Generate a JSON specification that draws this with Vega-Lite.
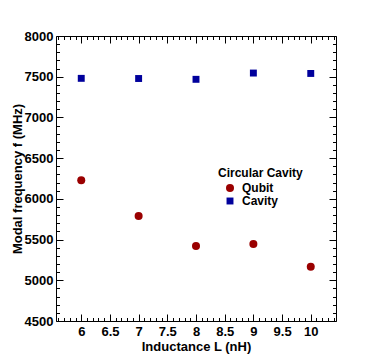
{
  "$schema": "https://vega.github.io/schema/vega-lite/v6.json",
  "autosize": {"type": "none"},
  "padding": {"left": 56, "top": 36, "right": 38, "bottom": 36},
  "width": 280,
  "height": 285,
  "background": "white",
  "config": {
    "view": {"stroke": "black", "strokeWidth": 1},
    "font": "Liberation Sans",
    "axis": {
      "grid": false,
      "domain": false,
      "labelFont": "Liberation Sans",
      "labelFontWeight": "bold",
      "labelFontSize": 13,
      "labelColor": "black",
      "titleFont": "Liberation Sans",
      "titleFontWeight": "bold",
      "titleFontSize": 13,
      "titleColor": "black",
      "tickColor": "black",
      "tickWidth": 1
    },
    "legend": {
      "titleFont": "Liberation Sans",
      "titleFontWeight": "bold",
      "titleFontSize": 12,
      "titleColor": "black",
      "labelFont": "Liberation Sans",
      "labelFontWeight": "bold",
      "labelFontSize": 12,
      "labelColor": "black"
    }
  },
  "data": {
    "values": [
      {"L": 6, "f": 6230, "series": "Qubit"},
      {"L": 7, "f": 5790, "series": "Qubit"},
      {"L": 8, "f": 5420, "series": "Qubit"},
      {"L": 9, "f": 5445, "series": "Qubit"},
      {"L": 10, "f": 5165, "series": "Qubit"},
      {"L": 6, "f": 7480, "series": "Cavity"},
      {"L": 7, "f": 7478, "series": "Cavity"},
      {"L": 8, "f": 7468, "series": "Cavity"},
      {"L": 9, "f": 7545, "series": "Cavity"},
      {"L": 10, "f": 7540, "series": "Cavity"}
    ]
  },
  "resolve": {"axis": {"x": "independent", "y": "independent"}},
  "layer": [
    {
      "mark": {"type": "point", "filled": true, "opacity": 1},
      "encoding": {
        "x": {
          "field": "L", "type": "quantitative",
          "scale": {"domain": [5.56, 10.44], "nice": false, "zero": false},
          "axis": {"orient": "bottom", "ticks": false, "labelPadding": 4, "format": "~g",
                   "values": [6, 6.5, 7, 7.5, 8, 8.5, 9, 9.5, 10],
                   "title": "Inductance L (nH)", "titleBaseline": "middle", "titleY": 25}
        },
        "y": {
          "field": "f", "type": "quantitative",
          "scale": {"domain": [4500, 8000], "nice": false, "zero": false},
          "axis": {"orient": "left", "ticks": false, "labelPadding": 3, "format": "d",
                   "values": [4500, 5000, 5500, 6000, 6500, 7000, 7500, 8000],
                   "title": "Modal frequency f (MHz)", "titleBaseline": "middle", "titleX": -39}
        },
        "color": {
          "field": "series", "type": "nominal",
          "scale": {"domain": ["Qubit", "Cavity"], "range": ["#9a0000", "#00009c"]},
          "legend": {
            "title": "Circular Cavity",
            "orient": "none",
            "legendX": 162,
            "legendY": 132,
            "padding": 0,
            "symbolSize": 45,
            "symbolOffset": 6,
            "labelOffset": 6,
            "rowPadding": 1,
            "titlePadding": 2,
            "symbolStrokeWidth": 0
          }
        },
        "shape": {
          "field": "series", "type": "nominal",
          "scale": {"domain": ["Qubit", "Cavity"], "range": ["circle", "square"]}
        },
        "size": {
          "field": "series", "type": "nominal",
          "scale": {"domain": ["Qubit", "Cavity"], "range": [64, 48]},
          "legend": null
        }
      }
    },
    {
      "mark": {"type": "point", "opacity": 0},
      "encoding": {
        "x": {"field": "L", "type": "quantitative",
              "axis": {"orient": "bottom", "labels": false, "title": null, "tickSize": -7,
                       "values": [6, 6.5, 7, 7.5, 8, 8.5, 9, 9.5, 10]}},
        "y": {"field": "f", "type": "quantitative",
              "axis": {"orient": "left", "labels": false, "title": null, "tickSize": -7,
                       "values": [4500, 5000, 5500, 6000, 6500, 7000, 7500, 8000]}}
      }
    },
    {
      "mark": {"type": "point", "opacity": 0},
      "encoding": {
        "x": {"field": "L", "type": "quantitative",
              "axis": {"orient": "bottom", "labels": false, "title": null, "tickSize": -3.5,
                       "values": [5.6,5.7,5.8,5.9,6.1,6.2,6.3,6.4,6.6,6.7,6.8,6.9,7.1,7.2,7.3,7.4,7.6,7.7,7.8,7.9,8.1,8.2,8.3,8.4,8.6,8.7,8.8,8.9,9.1,9.2,9.3,9.4,9.6,9.7,9.8,9.9,10.1,10.2,10.3,10.4]}},
        "y": {"field": "f", "type": "quantitative",
              "axis": {"orient": "left", "labels": false, "title": null, "tickSize": -3.5,
                       "values": [4600,4700,4800,4900,5100,5200,5300,5400,5600,5700,5800,5900,6100,6200,6300,6400,6600,6700,6800,6900,7100,7200,7300,7400,7600,7700,7800,7900]}}
      }
    },
    {
      "mark": {"type": "point", "opacity": 0},
      "encoding": {
        "x": {"field": "L", "type": "quantitative",
              "axis": {"orient": "top", "labels": false, "title": null, "tickSize": -7,
                       "values": [6, 6.5, 7, 7.5, 8, 8.5, 9, 9.5, 10]}},
        "y": {"field": "f", "type": "quantitative",
              "axis": {"orient": "right", "labels": false, "title": null, "tickSize": -7,
                       "values": [4500, 5000, 5500, 6000, 6500, 7000, 7500, 8000]}}
      }
    },
    {
      "mark": {"type": "point", "opacity": 0},
      "encoding": {
        "x": {"field": "L", "type": "quantitative",
              "axis": {"orient": "top", "labels": false, "title": null, "tickSize": -3.5,
                       "values": [5.6,5.7,5.8,5.9,6.1,6.2,6.3,6.4,6.6,6.7,6.8,6.9,7.1,7.2,7.3,7.4,7.6,7.7,7.8,7.9,8.1,8.2,8.3,8.4,8.6,8.7,8.8,8.9,9.1,9.2,9.3,9.4,9.6,9.7,9.8,9.9,10.1,10.2,10.3,10.4]}},
        "y": {"field": "f", "type": "quantitative",
              "axis": {"orient": "right", "labels": false, "title": null, "tickSize": -3.5,
                       "values": [4600,4700,4800,4900,5100,5200,5300,5400,5600,5700,5800,5900,6100,6200,6300,6400,6600,6700,6800,6900,7100,7200,7300,7400,7600,7700,7800,7900]}}
      }
    }
  ]
}
